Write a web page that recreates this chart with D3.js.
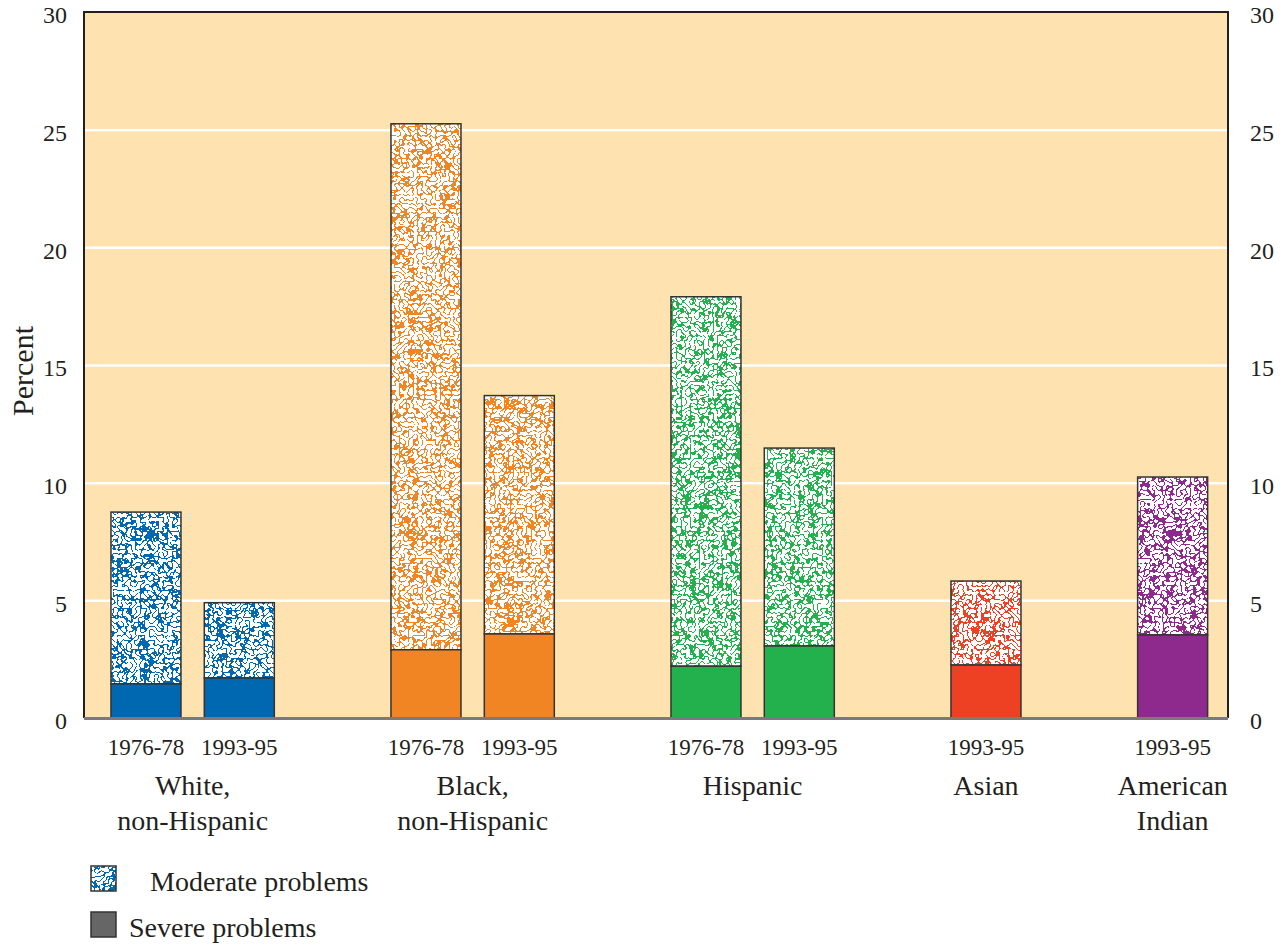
<!doctype html>
<html>
<head>
  <meta charset="utf-8">
  <title>Housing problems by race</title>
  <style>
    body { margin: 0; background: #fff; }
    svg text { font-family: "Liberation Serif", "Times New Roman", serif; fill: #231f20; }
  </style>
</head>
<body>
  <div id="chart"></div>
  <script src="https://cdnjs.cloudflare.com/ajax/libs/d3/7.8.5/d3.min.js"></script>
  <script>
    // slots along the x axis, empty ones keep the gaps between groups
    const slots = ['w76', 'w93', 'gap1', 'b76', 'b93', 'gap2', 'h76', 'h93', 'gap3', 'a93', 'gap4', 'i93'];
    const barSlot = ['w76', 'w93', 'b76', 'b93', 'h76', 'h93', 'a93', 'i93'];
    const period = ['1976-78', '1993-95', '1976-78', '1993-95', '1976-78', '1993-95', '1993-95', '1993-95'];
    const barGroup = ['white', 'white', 'black', 'black', 'hispanic', 'hispanic', 'asian', 'indian'];
    const severe = [1.45, 1.7, 2.9, 3.57, 2.2, 3.06, 2.25, 3.53];
    const moderate = [7.3, 3.2, 22.35, 10.13, 15.7, 8.41, 3.57, 6.71];

    const groupKeys = ['white', 'black', 'hispanic', 'asian', 'indian'];
    const groupNames = [['White,', 'non-Hispanic'], ['Black,', 'non-Hispanic'], ['Hispanic'], ['Asian'], ['American', 'Indian']];
    const groupColors = ['#0067b1', '#f28523', '#23b14d', '#ee4123', '#8e2a8d'];

    const yTicks = [0, 5, 10, 15, 20, 25, 30];

    const width = 1288, height = 946;
    const plot = { left: 84, right: 1228, top: 12, bottom: 718 };

    const svg = d3.select('#chart').append('svg')
      .attr('width', width).attr('height', height);

    const defs = svg.append('defs');
    // worm-like stipple texture for the "moderate" part of each bar
    const band = d3.range(9).map(k => (k === 4 ? 1 : 0)).join(' ');
    groupKeys.forEach((g, i) => {
      const f = defs.append('filter').attr('id', 'tex-' + g)
        .attr('x', 0).attr('y', 0).attr('width', 1).attr('height', 1)
        .attr('color-interpolation-filters', 'sRGB');
      f.append('feTurbulence').attr('type', 'fractalNoise').attr('baseFrequency', 0.22)
        .attr('numOctaves', 1).attr('seed', 7 + i).attr('result', 'noise');
      f.append('feColorMatrix').attr('in', 'noise').attr('type', 'matrix')
        .attr('values', '0 0 0 0 0  0 0 0 0 0  0 0 0 0 0  1 0 0 0 0').attr('result', 'a');
      f.append('feComponentTransfer').attr('in', 'a').attr('result', 'band')
        .append('feFuncA').attr('type', 'discrete').attr('tableValues', band);
      f.append('feFlood').attr('flood-color', groupColors[i]).attr('result', 'col');
      f.append('feComposite').attr('in', 'col').attr('in2', 'band').attr('operator', 'in').attr('result', 'worms');
      f.append('feFlood').attr('flood-color', '#ffffff').attr('result', 'white');
      const m = f.append('feMerge').attr('result', 'tex');
      m.append('feMergeNode').attr('in', 'white');
      m.append('feMergeNode').attr('in', 'worms');
      f.append('feComposite').attr('in', 'tex').attr('in2', 'SourceGraphic').attr('operator', 'in');
    });

    const x = d3.scaleBand().domain(slots).range([99.3, 1219.3])
      .paddingInner(0.25).paddingOuter(0.125);
    const y = d3.scaleLinear().domain([0, 30]).range([plot.bottom, plot.top]);
    const colorOf = d3.scaleOrdinal().domain(groupKeys).range(groupColors);

    // background
    svg.append('rect')
      .attr('x', plot.left).attr('y', plot.top)
      .attr('width', plot.right - plot.left).attr('height', plot.bottom - plot.top)
      .attr('fill', '#fee2af');

    // gridlines
    svg.append('g')
      .attr('transform', `translate(${plot.left},0)`)
      .call(d3.axisLeft(y).tickValues(yTicks.slice(1, -1)).tickSize(-(plot.right - plot.left)).tickFormat(''))
      .call(g => g.select('.domain').remove())
      .call(g => g.selectAll('line').attr('stroke', '#fff').attr('stroke-width', 2.5));

    // tick labels left and right
    svg.append('g')
      .attr('transform', `translate(${plot.left - 17},0)`)
      .call(d3.axisLeft(y).tickValues(yTicks).tickSize(0))
      .call(g => g.select('.domain').remove())
      .call(g => g.selectAll('text').attr('font-size', 24).attr('dy', '0.45em').attr('x', 0));
    svg.append('g')
      .attr('transform', `translate(${plot.right + 22},0)`)
      .call(d3.axisRight(y).tickValues(yTicks).tickSize(0))
      .call(g => g.select('.domain').remove())
      .call(g => g.selectAll('text').attr('font-size', 24).attr('dy', '0.45em').attr('x', 0));
    svg.selectAll('.tick text').style('font-family', '"Liberation Serif", serif').attr('fill', '#231f20');

    // frame
    svg.append('path')
      .attr('d', `M${plot.left},${plot.bottom} V${plot.top} H${plot.right} V${plot.bottom}`)
      .attr('fill', 'none').attr('stroke', '#231f20').attr('stroke-width', 2);

    const bars = barSlot.map((s, i) => ({
      slot: s, period: period[i], group: barGroup[i], severe: severe[i], moderate: moderate[i]
    }));

    const bar = svg.append('g').selectAll('g').data(bars).join('g');

    bar.append('rect')
      .attr('x', d => x(d.slot)).attr('width', x.bandwidth())
      .attr('y', d => y(d.severe + d.moderate))
      .attr('height', d => y(d.severe) - y(d.severe + d.moderate))
      .attr('fill', '#fff')
      .attr('filter', d => `url(#tex-${d.group})`);
    bar.append('rect')
      .attr('x', d => x(d.slot)).attr('width', x.bandwidth())
      .attr('y', d => y(d.severe + d.moderate))
      .attr('height', d => y(d.severe) - y(d.severe + d.moderate))
      .attr('fill', 'none').attr('stroke', '#333').attr('stroke-width', 1.5);
    bar.append('rect')
      .attr('x', d => x(d.slot)).attr('width', x.bandwidth())
      .attr('y', d => y(d.severe))
      .attr('height', d => y(0) - y(d.severe))
      .attr('fill', d => colorOf(d.group))
      .attr('stroke', '#333').attr('stroke-width', 1.5);

    // baseline
    svg.append('line')
      .attr('x1', plot.left).attr('x2', plot.right)
      .attr('y1', y(0) + 0.5).attr('y2', y(0) + 0.5)
      .attr('stroke', '#7a7a7a').attr('stroke-width', 3);

    // period labels
    svg.append('g').selectAll('text').data(bars).join('text')
      .attr('x', d => x(d.slot) + x.bandwidth() / 2)
      .attr('y', 755)
      .attr('text-anchor', 'middle')
      .attr('font-size', 23)
      .text(d => d.period);

    // group labels
    groupKeys.forEach((g, i) => {
      const members = bars.filter(d => d.group === g);
      const cx = d3.mean(members, d => x(d.slot) + x.bandwidth() / 2);
      const t = svg.append('text')
        .attr('x', cx).attr('y', 795)
        .attr('text-anchor', 'middle').attr('font-size', 28);
      groupNames[i].forEach((line, j) => {
        t.append('tspan').attr('x', cx).attr('dy', j === 0 ? 0 : 35).text(line);
      });
    });

    // y title
    svg.append('text')
      .attr('transform', 'translate(33,371) rotate(-90)')
      .attr('text-anchor', 'middle')
      .attr('font-size', 30)
      .text('Percent');

    // legend
    svg.append('rect')
      .attr('x', 91).attr('y', 866).attr('width', 25).attr('height', 25)
      .attr('fill', '#fff').attr('filter', 'url(#tex-white)');
    svg.append('rect')
      .attr('x', 91).attr('y', 866).attr('width', 25).attr('height', 25)
      .attr('fill', 'none').attr('stroke', '#333').attr('stroke-width', 1.5);
    svg.append('text').attr('x', 150).attr('y', 891).attr('font-size', 28).text('Moderate problems');

    svg.append('rect')
      .attr('x', 91).attr('y', 912).attr('width', 25).attr('height', 25)
      .attr('fill', '#666').attr('stroke', '#333').attr('stroke-width', 1.5);
    svg.append('text').attr('x', 129).attr('y', 937).attr('font-size', 28).text('Severe problems');
  </script>
</body>
</html>
